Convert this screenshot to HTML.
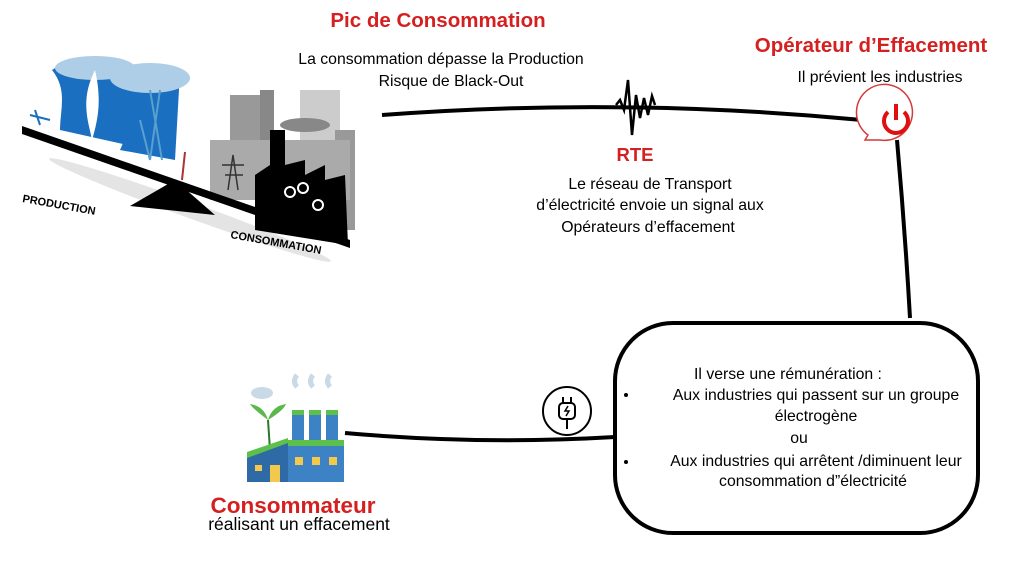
<!DOCTYPE html>
<html><head><meta charset="utf-8"><style>
html,body{margin:0;padding:0;background:#fff;width:1024px;height:562px;overflow:hidden}
svg{display:block}
text{font-family:"Liberation Sans",sans-serif}
</style></head><body>
<svg width="1024" height="562" viewBox="0 0 1024 562">
<!-- connector lines -->
<path d="M382,115 Q620,97 862,120" fill="none" stroke="#000" stroke-width="4"/>
<path d="M897,140 Q905,230 910,318" fill="none" stroke="#000" stroke-width="4"/>
<path d="M345,433 Q480,445 615,437" fill="none" stroke="#000" stroke-width="4"/>
<!-- signal -->
<path d="M616,105 L620,100 L624,110 L628,80 L632,135 L636,95 L640,118 L644,98 L648,115 L652,96 L655,105" fill="none" stroke="#000" stroke-width="2.5"/>
<!-- box -->
<rect x="615" y="323" width="363" height="210" rx="58" fill="#fff" stroke="#000" stroke-width="4"/>
<!-- power bubble -->
<path d="M868,135 A28,28 0 1,1 880,140 L865,140 Z" fill="#fff" stroke="#d43a3a" stroke-width="1.5"/>
<path d="M888,112 A12,12 0 1,0 904,112" fill="none" stroke="#e01010" stroke-width="4"/>
<line x1="896" y1="104" x2="896" y2="120" stroke="#e01010" stroke-width="4"/>
<!-- plug icon -->
<circle cx="567" cy="411" r="24" fill="none" stroke="#000" stroke-width="2"/>
<rect x="559" y="403" width="16" height="16" rx="4" fill="#fff" stroke="#000" stroke-width="2"/>
<path d="M563,397v6M571,397v6M567,419v10" stroke="#000" stroke-width="2"/>
<path d="M568,406l-3,5h4l-3,5" fill="none" stroke="#000" stroke-width="1.5"/>
<!-- illustration left -->
<g>
<ellipse cx="190" cy="210" rx="150" ry="8" fill="#e4e4e4" transform="rotate(20 190 210)"/>
<path d="M52,70 C80,50 110,80 140,70 L150,150 L60,130 C60,110 68,90 52,70Z" fill="#1a6fc0"/>
<path d="M100,70 C120,60 150,75 180,72 L175,160 L120,150 C135,120 110,100 100,70Z" fill="#1a6fc0"/>
<ellipse cx="95" cy="68" rx="40" ry="12" fill="#aecde6"/>
<ellipse cx="150" cy="78" rx="40" ry="15" fill="#aecde6"/>
<path d="M95,70 C80,100 88,120 92,140 C98,120 102,100 95,70Z" fill="#fff"/>
<path d="M140,120 l10,40 M150,90 l12,70 M160,90 l-10,70" stroke="#5aa0cc" stroke-width="2"/>
<path d="M35,110 l5,15 M30,115 l20,5" stroke="#1a6fc0" stroke-width="2"/>
<rect x="230" y="95" width="35" height="100" fill="#999"/>
<rect x="260" y="90" width="14" height="60" fill="#888"/>
<rect x="300" y="90" width="40" height="110" fill="#ccc"/>
<rect x="335" y="130" width="20" height="100" fill="#999"/>
<rect x="210" y="140" width="140" height="60" fill="#aaa"/>
<ellipse cx="305" cy="125" rx="25" ry="7" fill="#888"/>
<path d="M255,230 L255,175 L270,165 L270,130 L285,130 L285,165 L305,160 L305,175 L325,165 L325,180 L345,175 L348,245Z" fill="#000"/>
<circle cx="290" cy="192" r="5" fill="none" stroke="#fff" stroke-width="2"/>
<circle cx="303" cy="188" r="5" fill="none" stroke="#fff" stroke-width="2"/>
<circle cx="318" cy="205" r="5" fill="none" stroke="#fff" stroke-width="2"/>
<path d="M22,126 L350,240 L350,248 L22,134Z" fill="#000"/>
<path d="M130,206 L175,180 L215,215Z" fill="#000"/>
<path d="M182,180 L185,152" stroke="#a33" stroke-width="2"/>
<path d="M228,190 l5,-35 l5,35 M222,165 h22 M225,175 h18" stroke="#333" stroke-width="1.5" fill="none"/>
</g>
<text x="22" y="202" font-size="11" font-weight="bold" transform="rotate(10 22 202)">PRODUCTION</text>
<text x="230" y="238" font-size="11" font-weight="bold" transform="rotate(10 230 238)">CONSOMMATION</text>
<!-- factory -->
<ellipse cx="262" cy="393" rx="11" ry="6" fill="#c9d9e6"/>
<path d="M297,387q-5,-6 0,-12M313,387q-5,-6 0,-12M330,387q-5,-6 0,-12" stroke="#c9d9e6" stroke-width="5" fill="none"/>
<path d="M270,450 L268,420" stroke="#2a7a2a" stroke-width="2"/>
<path d="M268,420 q-16,-12 -18,-16 q14,2 18,16 q4,-14 18,-16 q-2,6 -18,16" fill="#5cb84a"/>
<rect x="292" y="410" width="12" height="30" fill="#3d82c4"/>
<rect x="309" y="410" width="12" height="30" fill="#3d82c4"/>
<rect x="326" y="410" width="12" height="30" fill="#3d82c4"/>
<rect x="292" y="410" width="12" height="5" fill="#5cc04a"/>
<rect x="309" y="410" width="12" height="5" fill="#5cc04a"/>
<rect x="326" y="410" width="12" height="5" fill="#5cc04a"/>
<path d="M247,455 L288,440 L288,482 L247,482Z" fill="#2e6aa6"/>
<path d="M247,452 L288,438 L288,443 L247,458Z" fill="#5cc04a"/>
<rect x="288" y="440" width="56" height="42" fill="#3d82c4"/>
<rect x="288" y="440" width="56" height="6" fill="#5cc04a"/>
<rect x="270" y="465" width="10" height="17" fill="#f2c94c"/>
<rect x="255" y="465" width="7" height="6" fill="#f2c94c"/>
<rect x="295" y="457" width="8" height="8" fill="#f2c94c"/>
<rect x="312" y="457" width="8" height="8" fill="#f2c94c"/>
<rect x="329" y="457" width="8" height="8" fill="#f2c94c"/>
<!-- text -->
<text x="438" y="27" font-size="20.5" font-weight="bold" fill="#d42020" text-anchor="middle">Pic de Consommation</text>
<text x="441" y="64" font-size="15.8" text-anchor="middle">La consommation dépasse la Production</text>
<text x="451" y="86" font-size="15.8" text-anchor="middle">Risque de Black-Out</text>
<text x="871" y="52" font-size="20.5" font-weight="bold" fill="#d42020" text-anchor="middle">Opérateur d’Effacement</text>
<text x="880" y="82" font-size="15.8" text-anchor="middle">Il prévient les industries</text>
<text x="635" y="161" font-size="18.5" font-weight="bold" fill="#d42020" text-anchor="middle">RTE</text>
<text x="650" y="189" font-size="15.8" text-anchor="middle">Le réseau de Transport</text>
<text x="650" y="210" font-size="15.8" text-anchor="middle">d’électricité envoie un signal aux</text>
<text x="648" y="232" font-size="15.8" text-anchor="middle">Opérateurs d’effacement</text>
<text x="293" y="513" font-size="22.5" font-weight="bold" fill="#d42020" text-anchor="middle">Consommateur</text>
<text x="299" y="530" font-size="17.5" text-anchor="middle">réalisant un effacement</text>
<g font-size="15.8" text-anchor="middle">
<text x="788" y="379">Il verse une rémunération :</text>
<text x="816" y="400">Aux industries  qui passent sur un groupe</text>
<text x="816" y="421">électrogène</text>
<text x="799" y="443">ou</text>
<text x="816" y="466">Aux industries qui arrêtent /diminuent leur</text>
<text x="813" y="486">consommation  d”électricité</text>
<circle cx="626" cy="395" r="2" fill="#000" stroke="none"/>
<circle cx="626" cy="462" r="2" fill="#000" stroke="none"/>
</g>
</svg>
</body></html>
